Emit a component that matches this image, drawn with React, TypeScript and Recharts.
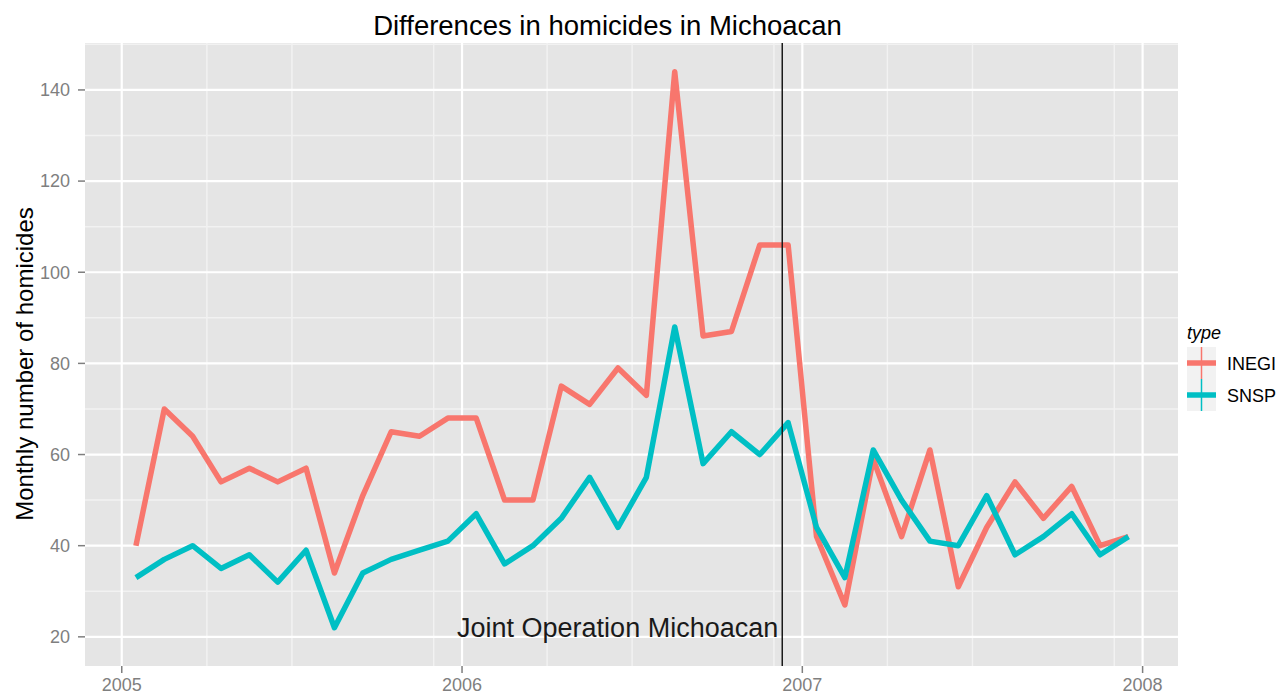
import React from "react";
import { LineChart, Line, XAxis, YAxis, CartesianGrid, ReferenceLine, ReferenceDot } from "recharts";

const months: string[] = [
  "2005-01","2005-02","2005-03","2005-04","2005-05","2005-06","2005-07","2005-08","2005-09","2005-10","2005-11","2005-12",
  "2006-01","2006-02","2006-03","2006-04","2006-05","2006-06","2006-07","2006-08","2006-09","2006-10","2006-11","2006-12",
  "2007-01","2007-02","2007-03","2007-04","2007-05","2007-06","2007-07","2007-08","2007-09","2007-10","2007-11","2007-12",
];

const inegi: number[] = [
  40, 70, 64, 54, 57, 54, 57, 34, 51, 65, 64, 68,
  68, 50, 50, 75, 71, 79, 73, 144, 86, 87, 106, 106,
  42, 27, 59, 42, 61, 31, 44, 54, 46, 53, 40, 42,
];

const snsp: number[] = [
  33, 37, 40, 35, 38, 32, 39, 22, 34, 37, 39, 41,
  47, 36, 40, 46, 55, 44, 55, 88, 58, 65, 60, 67,
  44, 33, 61, 50, 41, 40, 51, 38, 42, 47, 38, 42,
];

const xTicks: number[] = [2005, 2006, 2007, 2008];
const yTicks: number[] = [20, 40, 60, 80, 100, 120, 140];
const yMinor: number[] = [30, 50, 70, 90, 110, 130, 150];
const xMinor: number[] = months
  .map((m) => {
    const [y, mo] = m.split("-").map(Number);
    return y + (mo - 1) / 12;
  })
  .filter((v) => !Number.isInteger(v));

const operationDate = 2006.941;
const operationLabel = "Joint Operation Michoacan";
const title = "Differences in homicides in Michoacan";
const yLabel = "Monthly number of homicides";
const legendTitle = "type";

const seriesDefs = [
  { key: "INEGI", color: "#F8766D", values: inegi },
  { key: "SNSP", color: "#00BFC4", values: snsp },
];

const data = months.map((m, i) => {
  const [y, mo] = m.split("-").map(Number);
  return { t: y + (mo - 0.5) / 12, INEGI: inegi[i], SNSP: snsp[i] };
});

const FONT = "'Liberation Sans', Arial, Helvetica, sans-serif";

const OpLabel = (props: any) => {
  const vb = props.viewBox || {};
  return (
    <text x={vb.x - 4} y={vb.y} textAnchor="end" fontSize={27} fontFamily={FONT} fill="#1a1a1a">
      {operationLabel}
    </text>
  );
};

export default function App() {
  return (
    <div style={{ position: "absolute", left: 0, top: 0, width: 1278, height: 695, background: "#fff" }}>
      <LineChart
        width={1278}
        height={695}
        data={data}
        margin={{ top: 43, right: 100, bottom: 0, left: 0 }}
      >
        <CartesianGrid
          fill="#E5E5E5"
          fillOpacity={1}
          stroke="#F2F2F2"
          strokeWidth={1.5}
          horizontalValues={yMinor}
          verticalValues={xMinor}
        />
        <CartesianGrid
          fill="none"
          stroke="#FFFFFF"
          strokeWidth={2.2}
          horizontalValues={yTicks}
          verticalValues={xTicks}
        />
        <XAxis
          dataKey="t"
          type="number"
          domain={[2004.892, 2008.104]}
          ticks={xTicks}
          tickFormatter={(v: number) => String(v)}
          axisLine={false}
          tickLine={{ stroke: "#7F7F7F", strokeWidth: 1.5 }}
          tickSize={7}
          tickMargin={5}
          height={29}
          tick={{ fill: "#7F7F7F", fontSize: 18, fontFamily: FONT }}
          allowDataOverflow
        />
        <YAxis
          type="number"
          domain={[13.6, 150.3]}
          ticks={yTicks}
          axisLine={false}
          tickLine={{ stroke: "#7F7F7F", strokeWidth: 1.5 }}
          tickSize={7}
          tickMargin={8}
          width={85}
          tick={{ fill: "#7F7F7F", fontSize: 18, fontFamily: FONT }}
          allowDataOverflow
        />
        {seriesDefs.map((s) => (
          <Line
            key={s.key}
            dataKey={s.key}
            type="linear"
            stroke={s.color}
            strokeWidth={5.5}
            strokeLinejoin="round"
            dot={false}
            activeDot={false}
            isAnimationActive={false}
          />
        ))}
        <ReferenceLine x={operationDate} stroke="#1a1a1a" strokeWidth={1.5} />
        <ReferenceDot x={operationDate} y={20} r={0} fill="none" stroke="none" label={OpLabel} />
      </LineChart>
      <svg
        width={1278}
        height={695}
        style={{ position: "absolute", left: 0, top: 0, pointerEvents: "none" }}
        fontFamily={FONT}
      >
        <text x={607.5} y={35} textAnchor="middle" fontSize={27.5} fill="#000">
          {title}
        </text>
        <text transform="translate(33,364) rotate(-90)" textAnchor="middle" fontSize={24} fill="#000">
          {yLabel}
        </text>
        <text x={1187} y={339} fontSize={18} fontStyle="italic" fill="#000">
          {legendTitle}
        </text>
        {seriesDefs.map((s, i) => {
          const top = 347 + i * 32;
          return (
            <g key={s.key}>
              <rect x={1187} y={top} width={29} height={32} fill="#F2F2F2" />
              <line x1={1201.5} x2={1201.5} y1={top} y2={top + 32} stroke={s.color} strokeWidth={1.5} />
              <line x1={1187} x2={1216} y1={top + 16} y2={top + 16} stroke={s.color} strokeWidth={5.5} />
              <text x={1227} y={top + 22.5} fontSize={18} fill="#000">
                {s.key}
              </text>
            </g>
          );
        })}
      </svg>
    </div>
  );
}
